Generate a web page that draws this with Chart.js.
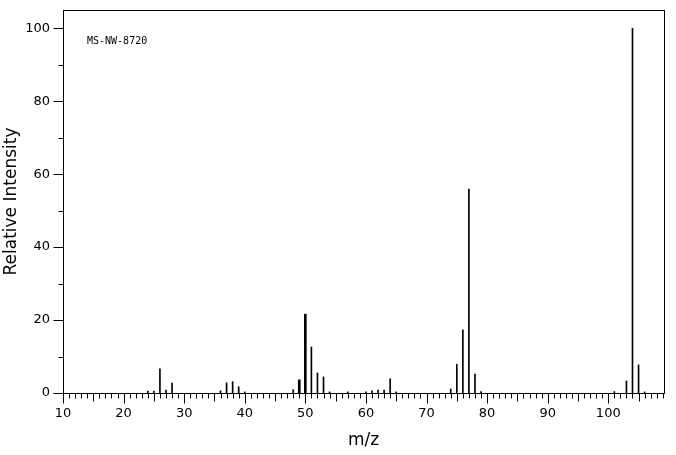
<!DOCTYPE html>
<html>
<head>
<meta charset="utf-8">
<style>
  html, body { margin: 0; padding: 0; background: #fff; }
  #wrap { width: 676px; height: 455px; position: relative; }
</style>
<script src="https://cdn.jsdelivr.net/npm/chart.js@4/dist/chart.umd.min.js"></script>
</head>
<body>
<div id="wrap"><canvas id="c" width="676" height="455"></canvas></div>
<script>
// ---- data ----
const mz = [24,25,26,27,28,36,37,38,39,40,48,49,50,51,52,53,54,57,60,61,62,63,64,65,74,75,76,77,78,79,101,103,104,105,106];
const intensity = [0.5,0.5,6.6,0.8,2.7,0.6,2.8,3.1,1.7,0.3,0.9,3.6,21.6,12.6,5.5,4.4,0.3,0.3,0.3,0.6,0.8,0.8,3.9,0.3,1.1,7.9,17.3,55.9,5.2,0.4,0.4,3.3,100,7.7,0.3];
const thickPeaks = [49,50];
const xTickLabels = [10,20,30,40,50,60,70,80,90,100];
const yTickLabels = [0,20,40,60,80,100];
const sampleId = "MS-NW-8720";
const xTitle = "m/z";
const yTitle = "Relative Intensity";

const thinData = [], thickData = [];
mz.forEach((m, i) => {
  const p = { x: m, y: intensity[i] };
  (thickPeaks.includes(m) ? thickData : thinData).push(p);
});

const FONT = "'DejaVu Sans', sans-serif";

const framePlugin = {
  id: 'frame',
  afterDraw(chart) {
    const ctx = chart.ctx, a = chart.chartArea;
    const xs = chart.scales.x, ys = chart.scales.y;
    ctx.save();
    ctx.strokeStyle = '#000';
    ctx.lineWidth = 1;
    ctx.strokeRect(Math.round(a.left) + 0.5, Math.round(a.top) + 0.5,
                   Math.round(a.right) - Math.round(a.left), Math.round(a.bottom) - Math.round(a.top));
    ctx.beginPath();
    const bottom = Math.round(a.bottom) + 0.5;
    for (let v = Math.ceil(xs.min); v <= xs.max; v++) {
      const px = Math.round(xs.getPixelForValue(v)) + 0.5;
      const len = v % 10 === 0 ? 10 : (v % 5 === 0 ? 8 : 5);
      ctx.moveTo(px, bottom);
      ctx.lineTo(px, bottom + len);
    }
    const left = Math.round(a.left) + 0.5;
    for (let v = 0; v <= 100; v += 10) {
      const py = Math.round(ys.getPixelForValue(v)) + 0.5;
      const len = v % 20 === 0 ? 10 : 5;
      ctx.moveTo(left, py);
      ctx.lineTo(left - len, py);
    }
    ctx.stroke();
    ctx.fillStyle = '#000';
    ctx.font = "10px 'DejaVu Sans Mono', monospace";
    ctx.textBaseline = 'middle';
    ctx.textAlign = 'left';
    ctx.fillText(sampleId, a.left + 24, a.top + 31);
    ctx.restore();
  }
};

new Chart(document.getElementById('c'), {
  type: 'bar',
  data: {
    datasets: [
      { data: thinData, backgroundColor: '#000', borderWidth: 0, barThickness: 1, grouped: false },
      { data: thickData, backgroundColor: '#000', borderWidth: 0, barThickness: 2, grouped: false }
    ]
  },
  options: {
    responsive: false,
    animation: false,
    devicePixelRatio: 1,
    layout: { padding: { top: 10, right: 12, left: 0, bottom: 0 } },
    plugins: { legend: { display: false }, tooltip: { enabled: false } },
    scales: {
      x: {
        type: 'linear',
        min: 10, max: 109.2,
        offset: false,
        grid: { display: false },
        border: { display: false },
        afterBuildTicks: s => { s.ticks = xTickLabels.map(v => ({ value: v })); },
        afterFit: s => { s.height = 62; s.paddingLeft = 0; s.paddingRight = 0; },
        ticks: { color: '#000', font: { family: FONT, size: 13 }, padding: 5, maxRotation: 0, autoSkip: false },
        title: { display: true, text: xTitle, color: '#000', font: { family: FONT, size: 17 }, padding: { top: 0, bottom: 4 } }
      },
      y: {
        type: 'linear',
        min: 0, max: 105,
        grid: { display: false },
        border: { display: false },
        afterBuildTicks: s => { s.ticks = yTickLabels.map(v => ({ value: v })); },
        afterFit: s => { s.width = 63; s.paddingTop = 0; s.paddingBottom = 0; },
        ticks: { color: '#000', font: { family: FONT, size: 13 }, padding: 5 },
        title: { display: true, text: yTitle, color: '#000', font: { family: FONT, size: 17 }, padding: { top: 1, bottom: 0 } }
      }
    }
  },
  plugins: [framePlugin]
});
</script>
</body>
</html>
